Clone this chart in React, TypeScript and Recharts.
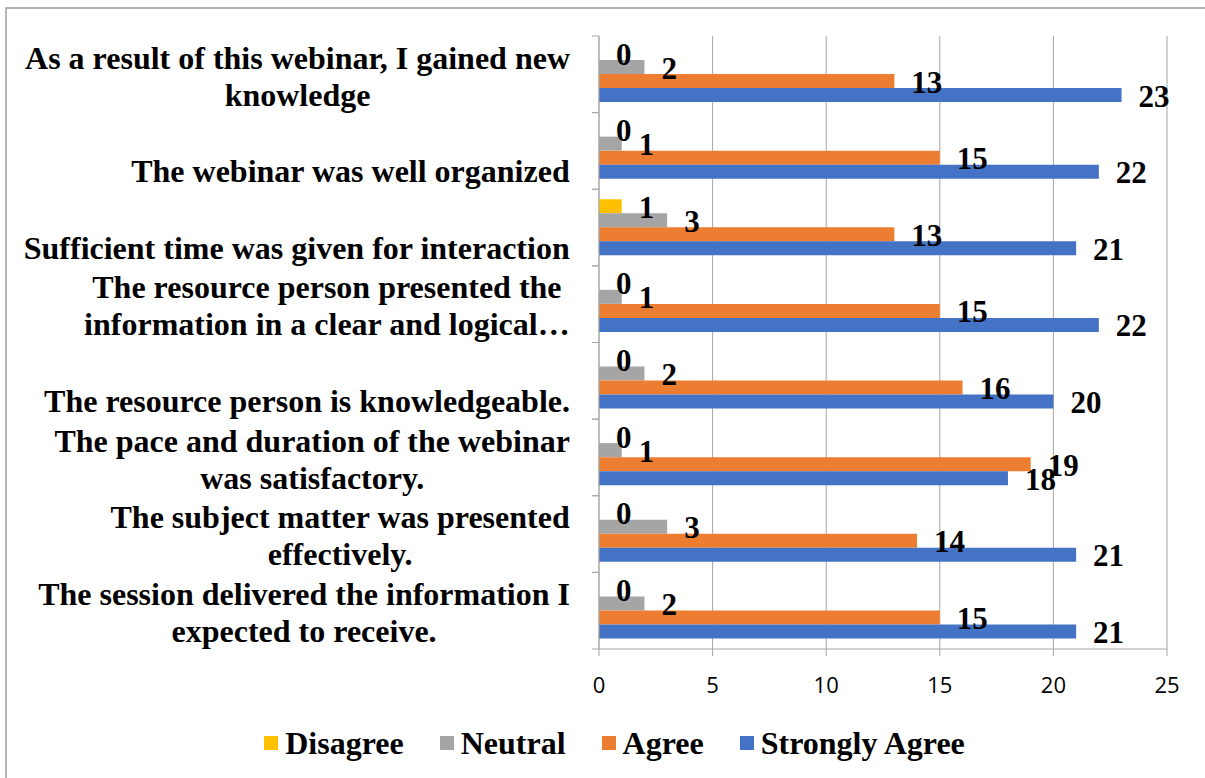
import React from 'react';
import { BarChart, Bar, XAxis, YAxis, CartesianGrid, Legend, LabelList } from 'recharts';

// survey statements, top to bottom; '\n' marks the wrapped lines as in the source sheet
const questions = [
  'As a result of this webinar, I gained new\nknowledge',
  '\nThe webinar was well organized',
  '\nSufficient time was given for interaction',
  'The resource person presented the\ninformation in a clear and logical…',
  '\nThe resource person is knowledgeable.',
  'The pace and duration of the webinar\nwas satisfactory.',
  'The subject matter was presented\neffectively.',
  'The session delivered the information I\nexpected to receive.',
];

const disagree = [0, 0, 1, 0, 0, 0, 0, 0];
const neutral = [2, 1, 3, 1, 2, 1, 3, 2];
const agree = [13, 15, 13, 15, 16, 19, 14, 15];
const stronglyAgree = [23, 22, 21, 22, 20, 18, 21, 21];

const xTicks = [0, 5, 10, 15, 20, 25];

const series = [
  { key: 'disagree', name: 'Disagree', color: '#FFC000' },
  { key: 'neutral', name: 'Neutral', color: '#A5A5A5' },
  { key: 'agree', name: 'Agree', color: '#ED7D31' },
  { key: 'stronglyAgree', name: 'Strongly Agree', color: '#4472C4' },
];

const data = questions.map((q, i) => ({
  q,
  disagree: disagree[i],
  neutral: neutral[i],
  agree: agree[i],
  stronglyAgree: stronglyAgree[i],
}));

const W = 1205;
const H = 778;
const MARGIN = { top: 36, right: 38, bottom: 10, left: 0 };
const Y_AXIS_W = 599;
const X_AXIS_H = 69;
const LEGEND_H = 50;
const LABEL_GAP = 29;
const PLOT_H = H - MARGIN.top - MARGIN.bottom - X_AXIS_H - LEGEND_H;
const BAND = PLOT_H / questions.length;

const SERIF = '"Liberation Serif", "Times New Roman", serif';
const CAT_FONT = 32;
const GRID = '#A6A6A6';

let ctx: CanvasRenderingContext2D | null = null;
const measure = (s: string) => {
  if (!ctx) ctx = document.createElement('canvas').getContext('2d');
  if (!ctx) return s.length * 14;
  ctx.font = `bold ${CAT_FONT}px ${SERIF}`;
  return ctx.measureText(s).width;
};

const CategoryTick = ({ x, y, payload }: any) => {
  const lines = String(payload.value).split('\n');
  const widest = Math.max(...lines.map(measure));
  const cx = x - widest / 2;
  const axisX = x + LABEL_GAP;
  return (
    <g>
      <line x1={axisX - 7} x2={axisX} y1={y - BAND / 2} y2={y - BAND / 2} stroke={GRID} />
      <line x1={axisX - 7} x2={axisX} y1={y + BAND / 2} y2={y + BAND / 2} stroke={GRID} />
      <text textAnchor="middle" fontFamily={SERIF} fontWeight="bold" fontSize={CAT_FONT} fill="#000">
        {lines.map((l, i) => (
          <tspan key={i} x={cx} y={y + (i - (lines.length - 1) / 2) * 37 + 1.5} dy="0.35em">
            {l}
          </tspan>
        ))}
      </text>
    </g>
  );
};

const renderValue = (props: any) => {
  const { x, y, width, height, value } = props;
  return (
    <text
      x={Number(x) + Number(width) + 17}
      y={Number(y) + Number(height) / 2 + 11.5}
      fontFamily={SERIF}
      fontWeight="bold"
      fontSize={31}
      fill="#000"
    >
      {value}
    </text>
  );
};

const renderLegend = () => (
  <div
    style={{
      display: 'flex',
      justifyContent: 'center',
      alignItems: 'center',
      height: LEGEND_H,
      paddingLeft: 24,
      gap: 36,
      fontFamily: SERIF,
      fontWeight: 'bold',
      fontSize: 32,
      color: '#000',
    }}
  >
    {series.map((s) => (
      <div key={s.key} style={{ display: 'flex', alignItems: 'center', gap: 7 }}>
        <span style={{ display: 'inline-block', width: 14, height: 14, background: s.color }} />
        <span>{s.name}</span>
      </div>
    ))}
  </div>
);

export default function App() {
  return (
    <div style={{ position: 'absolute', left: 0, top: 0, width: W, height: H, overflow: 'hidden', background: '#fff' }}>
      <div
        style={{
          position: 'absolute',
          left: 5,
          top: 7,
          width: W,
          height: H,
          borderLeft: '2px solid #B4B4B4',
          borderTop: '2px solid #B4B4B4',
        }}
      />
      <div style={{ position: 'absolute', left: 0, top: 0 }}>
        <BarChart width={W} height={H} data={data} layout="vertical" margin={MARGIN} barCategoryGap={10} barGap={0}>
          <CartesianGrid horizontal={false} stroke={GRID} />
          <XAxis
            type="number"
            domain={[0, 25]}
            ticks={xTicks}
            height={X_AXIS_H}
            tickSize={7}
            tickMargin={21}
            stroke={GRID}
            tick={{ fill: '#000', fontSize: 22, fontFamily: '"Open Sans", sans-serif' }}
          />
          <YAxis
            type="category"
            dataKey="q"
            width={Y_AXIS_W}
            tickSize={0}
            tickMargin={LABEL_GAP}
            stroke={GRID}
            interval={0}
            tick={<CategoryTick />}
          />
          <Legend verticalAlign="bottom" height={LEGEND_H} content={renderLegend} wrapperStyle={{ left: 0, width: W }} />
          {series.map((s) => (
            <Bar
              key={s.key}
              dataKey={s.key}
              name={s.name}
              fill={s.color}
              minPointSize={0.01}
              isAnimationActive={false}
            >
              <LabelList dataKey={s.key} content={renderValue} />
            </Bar>
          ))}
        </BarChart>
      </div>
    </div>
  );
}
